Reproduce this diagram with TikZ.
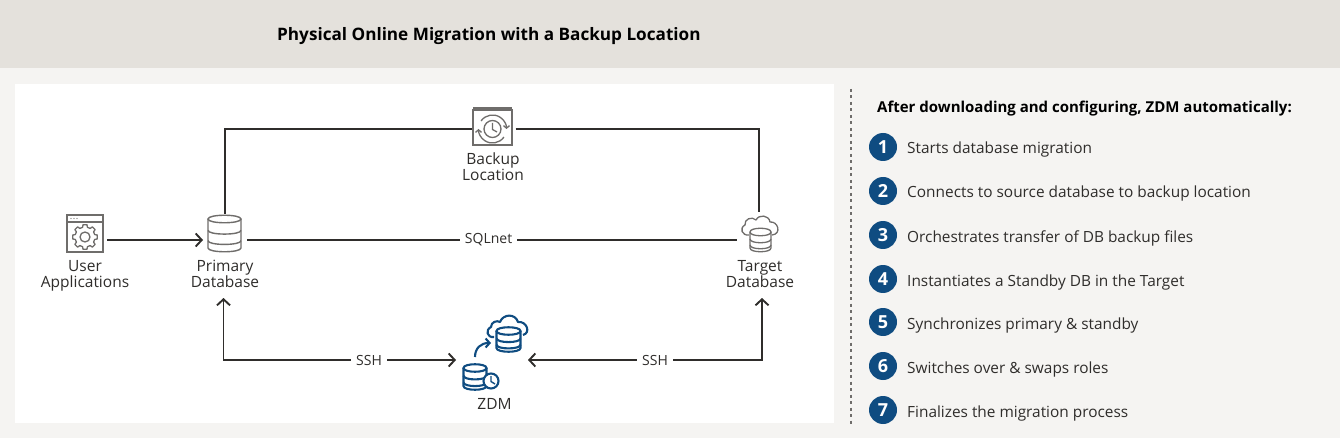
\documentclass[tikz,border=0pt]{standalone}
\usepackage{fontspec}
\setmainfont{Open Sans}
\usetikzlibrary{arrows.meta,calc}
\definecolor{band}{HTML}{E4E1DC}
\definecolor{page}{HTML}{F5F4F2}
\definecolor{ink}{HTML}{2F2D2B}
\definecolor{icon}{HTML}{6F6D6B}
\definecolor{navy}{HTML}{0F4C81}
\tikzset{
  anchorbox/.style={inner sep=0pt,outer sep=0pt},
  caption/.style={inner sep=0pt,outer sep=0pt,align=center,text=ink,font=\fontsize{15.5}{16}\selectfont},
  wire/.style={draw=ink,line width=1.9pt},
  tip/.style={wire,-{Straight Barb[length=6pt,width=13pt,line width=1.9pt]}},
  bothtips/.style={wire,{Straight Barb[length=6pt,width=13pt,line width=1.9pt]}-{Straight Barb[length=6pt,width=13pt,line width=1.9pt]}},
  wirelabel/.style={fill=white,inner sep=0pt,outer sep=0pt,minimum height=14pt,text=ink,font=\fontsize{14}{15}\selectfont},
  stepnum/.style={circle,fill=navy,text=white,minimum size=28pt,inner sep=0pt,font=\fontsize{18}{18}\selectfont\bfseries},
  steptext/.style={anchor=west,inner sep=0pt,text=ink,font=\fontsize{15.4}{18}\selectfont},
  heading/.style={anchor=west,inner sep=0pt,text=black,font=\fontsize{15}{18}\selectfont\bfseries},
  gl/.style={draw=icon,line width=1.3pt},
  bl/.style={draw=navy,line width=2.1pt},
}
% database glyph: centre x, top y, half width, height, style
\newcommand\dbglyph[5]{%
  \draw[#5] (#1-#3,#2+4) .. controls (#1-#3,#2-1) and (#1+#3,#2-1) .. (#1+#3,#2+4)
     .. controls (#1+#3,#2+9) and (#1-#3,#2+9) .. cycle;
  \draw[#5] (#1-#3,#2+4) -- (#1-#3,#2+#4-4) .. controls (#1-#3,#2+#4+1) and (#1+#3,#2+#4+1) .. (#1+#3,#2+#4-4) -- (#1+#3,#2+4);
  \draw[#5] (#1-#3,#2+4+#4/3-1) .. controls (#1-#3,#2+#4/3+8) and (#1+#3,#2+#4/3+8) .. (#1+#3,#2+4+#4/3-1);
  \draw[#5] (#1-#3,#2+2+2*#4/3-1) .. controls (#1-#3,#2+2*#4/3+6) and (#1+#3,#2+2*#4/3+6) .. (#1+#3,#2+2+2*#4/3-1);
}
\begin{document}
\begin{tikzpicture}[x=1pt,y=-1pt]
\useasboundingbox (0,0) rectangle (1340,438);
\fill[page] (0,0) rectangle (1340,438);
\fill[band] (0,0) rectangle (1340,68);
\fill[white] (15,84) rectangle (834,423);
\node[anchor=west,inner sep=0pt,text=black,font=\fontsize{17.15}{20}\selectfont\bfseries] (title) at (277,36) {Physical Online Migration with a Backup Location};
\draw[icon,line width=1.6pt,dash pattern=on 3pt off 3.5pt] (851,89) -- (851,424);

% anchor nodes for the icons
\node[anchorbox,minimum width=44pt,minimum height=56pt] (user) at (85,240) {};
\node[anchorbox,minimum width=44pt,minimum height=52pt] (primary) at (225,240) {};
\node[anchorbox,minimum width=44pt,minimum height=44pt] (backup) at (493.5,129) {};
\node[anchorbox,minimum width=44pt,minimum height=56pt] (target) at (759,240) {};
\node[anchorbox,minimum width=72pt,minimum height=60pt] (zdm) at (492,360) {};

% captions
\node[caption] (userlabel) at (85,276) {User\\Applications};
\node[caption] (primarylabel) at (225,274) {Primary\\Database};
\node[caption] (backuplabel) at (493,167) {Backup\\Location};
\node[caption] (targetlabel) at (760,274) {Target\\Database};
\node[caption] (zdmlabel) at (494.5,404) {ZDM};
\coordinate (primaryfoot) at (223.5,298);
\coordinate (targetfoot) at (762,298);

% connectors
\draw[tip] (user.east) -- (primary.west);
\draw[wire] (primary.north) |- (backup.west);
\draw[wire] (backup.east) -| (target.north);
\draw[wire] (primary.east) -- node[wirelabel,minimum width=57pt,pos=.493]{\raisebox{-1pt}{SQLnet}} (target.west);
\draw[bothtips] (primaryfoot) |- node[wirelabel,minimum width=36pt,pos=.813]{\raisebox{-2pt}{SSH}} (zdm.west);
\draw[bothtips] (targetfoot) |- node[wirelabel,minimum width=36pt,pos=.7286]{\raisebox{-2pt}{SSH}} (zdm.east);

% user application icon
\draw[gl] (67,215) rectangle (103,252);
\draw[gl] (67,222) -- (103,222);
\foreach \i in {0,1,2} \fill[icon] (71+\i*3,218.5) circle (.7pt);
\draw[gl] (85,237) circle (5pt);
\draw[gl,line join=round] \foreach[count=\n] \a in {0,45,...,315}{
  \ifnum\n=1 ($(85,237)+(\a-14:10)$) \else -- ($(85,237)+(\a-14:10)$) \fi
  -- ($(85,237)+(\a-9:12.5)$) -- ($(85,237)+(\a+9:12.5)$) -- ($(85,237)+(\a+14:10)$)
} -- cycle;

% primary database icon
\dbglyph{224.5}{215}{16.5}{37}{gl,line width=1.4pt}

% backup icon
\draw[gl] (473,110) rectangle (512,145);
\draw[icon,line width=2.4pt] (473,108.5) -- (512,108.5);
\draw[gl] (492.5,129) circle (8.5pt);
\draw[gl] (492.5,123) -- (492.5,129.5) -- (497,132);
\draw[gl,-{Straight Barb[length=2.5pt,width=6pt]}] ($(492.5,129)+(215:14)$) arc[start angle=145,end angle=0,radius=14pt];
\draw[gl,-{Straight Barb[length=2.5pt,width=6pt]}] ($(492.5,129)+(35:14)$) arc[start angle=-35,end angle=-180,radius=14pt];

% target icon
\draw[gl,line join=round] (749,235) .. controls (742,236) and (739,228) .. (745,225)
  .. controls (744,219) and (752,216) .. (756,220)
  .. controls (759,214) and (769,215) .. (770,222)
  .. controls (778,221) and (782,234) .. (772,235);
\fill[white] (749,229) rectangle (772,254);
\dbglyph{760.5}{228}{10.5}{24}{gl}

% zdm icon
\draw[bl,line join=round] (494,337) .. controls (487,338) and (485,330) .. (491,327)
  .. controls (491,322) and (497,320) .. (500,322)
  .. controls (503,314) and (515,313) .. (518,322)
  .. controls (527,321) and (531,333) .. (523,335);
\fill[white] (495,327) rectangle (522,354);
\dbglyph{508.5}{327}{12}{25}{bl}
\dbglyph{475}{364}{11.5}{26}{bl}
\draw[bl,-{Straight Barb[length=4pt,width=9pt,line width=2.1pt]}] (475,357) .. controls (475,348) and (481,343) .. (491,343);
\draw[bl,fill=white] (491,381) circle (7.5pt);
\draw[navy,line width=1.4pt] (491,376) -- (491,381.5) -- (495,384);

% steps panel
\node[heading] (stephead) at (877,109) {After downloading and configuring, ZDM automatically:};
\foreach \n/\y/\t in {1/147/Starts database migration,
  2/191/Connects to source database to backup location,
  3/235/Orchestrates transfer of DB backup files,
  4/279/Instantiates a Standby DB in the Target,
  5/322/Synchronizes primary \& standby,
  6/366/Switches over \& swaps roles,
  7/410/Finalizes the migration process}{
  \node[stepnum] (num\n) at (883,\y) {\n};
  \node[steptext] (txt\n) at (907,\y+3) {\t};
}
\end{tikzpicture}
\end{document}
